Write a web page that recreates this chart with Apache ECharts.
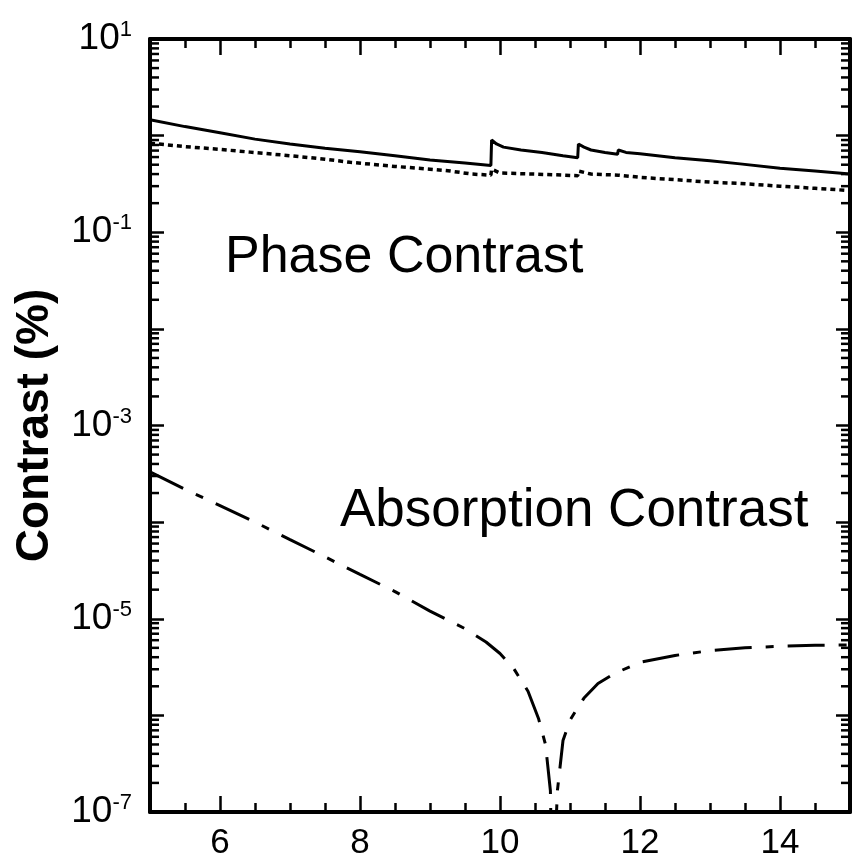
<!DOCTYPE html>
<html><head><meta charset="utf-8">
<script src="https://cdn.jsdelivr.net/npm/echarts@6/dist/echarts.min.js"></script>
<style>html,body{margin:0;padding:0;background:#fff}#c{width:854px;height:856px}</style>
</head><body><div id="c"></div>
<script>
// Solid curve (phase contrast, upper)
const solidX = [5.0,5.5,6.0,6.5,7.0,7.5,8.0,8.5,9.0,9.5,9.87,9.88,9.95,10.05,10.3,10.6,10.9,11.11,11.12,11.2,11.3,11.5,11.68,11.69,11.8,12.0,12.5,13.0,13.43,14.0,14.5,15.0];
const solidV = [1.46,1.24,1.07,0.92,0.82,0.74,0.68,0.62,0.56,0.52,0.49,0.90,0.82,0.76,0.71,0.67,0.62,0.59,0.82,0.76,0.71,0.67,0.64,0.71,0.67,0.65,0.59,0.55,0.51,0.46,0.43,0.40];
// Dotted curve (phase contrast, lower)
const dottedX = [5.0,5.5,6.0,6.43,7.0,7.5,7.86,8.5,9.0,9.29,9.6,9.87,9.88,10.0,10.5,11.11,11.12,11.3,11.69,11.7,12.0,12.5,13.0,13.43,14.0,14.5,15.0];
const dottedV = [0.835,0.77,0.72,0.675,0.62,0.57,0.53,0.48,0.45,0.43,0.40,0.39,0.45,0.41,0.40,0.385,0.43,0.40,0.39,0.40,0.37,0.35,0.33,0.32,0.30,0.285,0.27];
// Dash-dot curve (absorption contrast)
const dashX = [5.0,5.5,6.0,6.5,7.0,7.5,8.0,8.5,9.0,9.5,9.8,10.0,10.2,10.4,10.55,10.65,10.72,10.75,10.78,10.82,10.9,11.0,11.1,11.2,11.4,11.64,12.0,12.5,13.0,13.5,14.0,14.5,15.0];
const dashV = [3.31e-4,2.19e-4,1.48e-4,1.0e-4,6.6e-5,4.37e-5,2.88e-5,1.91e-5,1.20e-5,7.9e-6,5.75e-6,4.37e-6,3.02e-6,1.78e-6,9.3e-7,5.0e-7,1.66e-7,1e-8,3.2e-8,1.66e-7,5.5e-7,8.9e-7,1.17e-6,1.51e-6,2.14e-6,2.72e-6,3.55e-6,4.17e-6,4.68e-6,5.0e-6,5.19e-6,5.31e-6,5.37e-6];
// Axis settings
const xMin = 5, xMax = 15;
const yMin = 1e-7, yMax = 10;
const minorYValues = [];
for (let k = -7; k < 1; k++) { for (let m = 2; m <= 9; m++) minorYValues.push(m * Math.pow(10, k)); }

const FONT = '"Liberation Sans", Arial, Helvetica, sans-serif';
const zip = (xs, vs) => xs.map((x, i) => [x, vs[i]]);

const chart = echarts.init(document.getElementById('c'), null, {renderer: 'canvas'});

function xAxisLong(pos, showLabel) {
  return {
    type: 'value', position: pos, min: xMin, max: xMax, splitNumber: 5,
    axisLine: {onZero: false, lineStyle: {color: '#000', width: 4}},
    axisTick: {inside: true, length: 16, lineStyle: {color: '#000', width: 2.5}},
    minorTick: {show: false}, splitLine: {show: false},
    axisLabel: showLabel ? {show: true, showMinLabel: false, showMaxLabel: false, margin: 14,
      fontFamily: FONT, fontSize: 35, color: '#000'} : {show: false}
  };
}
function xAxisShort(pos) {
  return {
    type: 'value', position: pos, min: xMin, max: xMax, interval: 0.5,
    axisLine: {show: false, onZero: false},
    axisTick: {inside: true, length: 9, lineStyle: {color: '#000', width: 2.5}},
    splitLine: {show: false}, axisLabel: {show: false}
  };
}
function yAxisLog(pos, showLabel) {
  return {
    type: 'log', logBase: 10, position: pos, min: yMin, max: yMax, splitNumber: 8,
    axisLine: {show: true, onZero: false, lineStyle: {color: '#000', width: 4}},
    axisTick: {show: true, inside: true, length: 14, lineStyle: {color: '#000', width: 2.5}},
    splitLine: {show: false},
    axisLabel: showLabel ? {
      show: true, margin: 18, showMinLabel: true, showMaxLabel: true,
      formatter: v => { const e = Math.round(Math.log10(v)); return (e % 2 !== 0) ? '{b|10}{s|' + e + '}' : ''; },
      rich: {
        b: {fontFamily: FONT, fontSize: 37, lineHeight: 40, color: '#000'},
        s: {fontFamily: FONT, fontSize: 22, verticalAlign: 'top', color: '#000'}
      }
    } : {show: false}
  };
}

const yLeft = yAxisLog('left', true);
yLeft.name = 'Contrast (%)';
yLeft.nameLocation = 'middle';
yLeft.nameGap = 92;
yLeft.nameTextStyle = {fontFamily: FONT, fontWeight: 'bold', fontSize: 46, color: '#000'};

chart.setOption({
  animation: false,
  backgroundColor: '#fff',
  grid: {left: 150, right: 4, top: 39, bottom: 44, outerBoundsMode: 'none', containLabel: false},
  xAxis: [xAxisLong('bottom', true), xAxisShort('bottom'), xAxisLong('top', false), xAxisShort('top')],
  yAxis: [yLeft, yAxisLog('right', false)],
  graphic: [
    {type: 'text', left: 225, top: 232, silent: true,
     style: {text: 'Phase Contrast', font: '52px ' + FONT, fill: '#000'}},
    {type: 'text', left: 340, top: 485, silent: true,
     style: {text: 'Absorption Contrast', font: '53px ' + FONT, fill: '#000'}}
  ],
  series: [
    {type: 'line', xAxisIndex: 0, yAxisIndex: 0, data: zip(solidX, solidV), symbol: 'none', clip: true,
     lineStyle: {color: '#000', width: 3, type: 'solid'}},
    {type: 'line', xAxisIndex: 0, yAxisIndex: 0, data: zip(dottedX, dottedV), symbol: 'none', clip: true,
     lineStyle: {color: '#000', width: 3.5, type: [5, 4]}},
    {type: 'line', xAxisIndex: 0, yAxisIndex: 0, data: zip(dashX, dashV), symbol: 'none', clip: true,
     lineStyle: {color: '#000', width: 3, type: [37, 14, 8, 14]}},
    {type: 'custom', xAxisIndex: 0, yAxisIndex: 0, silent: true, clip: false,
     data: minorYValues.map(v => [xMin, v]),
     renderItem: (params, api) => {
       const p = api.coord([api.value(0), api.value(1)]);
       const cs = params.coordSys;
       const st = {stroke: '#000', lineWidth: 2.5};
       return {type: 'group', children: [
         {type: 'line', shape: {x1: cs.x, y1: p[1], x2: cs.x + 9, y2: p[1]}, style: st},
         {type: 'line', shape: {x1: cs.x + cs.width, y1: p[1], x2: cs.x + cs.width - 9, y2: p[1]}, style: st}
       ]};
     }}
  ]
});
</script>
</body></html>
